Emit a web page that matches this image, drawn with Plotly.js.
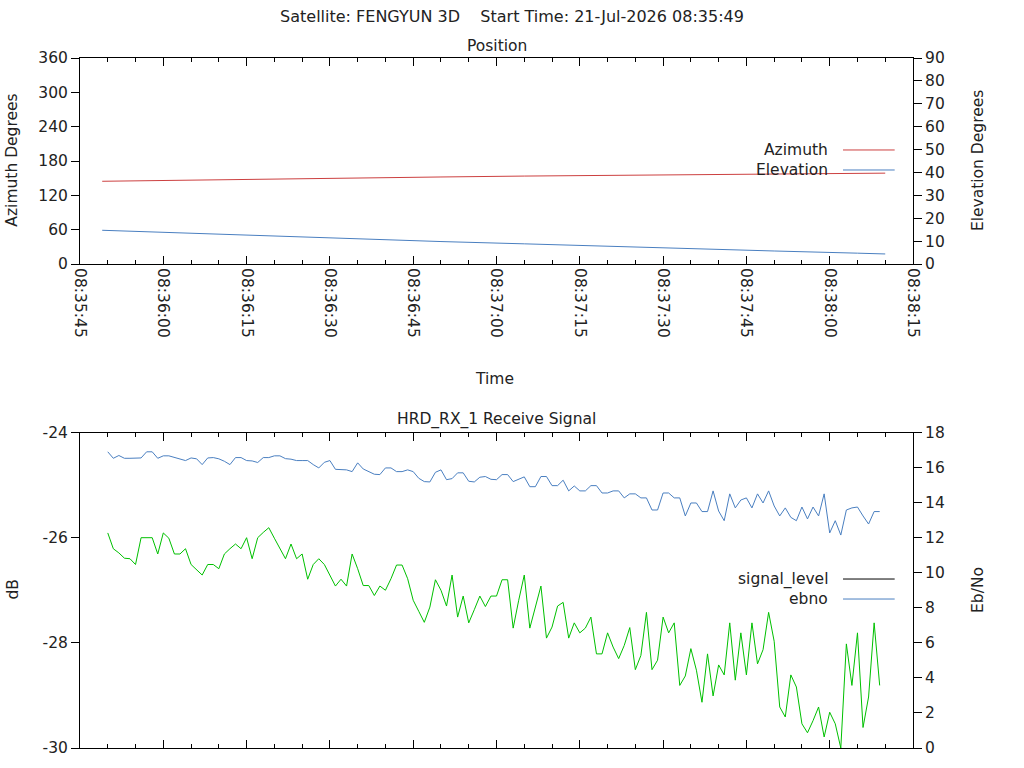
<!DOCTYPE html>
<html>
<head>
<meta charset="utf-8">
<script src="https://cdn.plot.ly/plotly-3.0.1.min.js"></script>
<style>
  html, body { margin: 0; padding: 0; background: #fff; }
  #chart { width: 1024px; height: 768px; }
</style>
</head>
<body>
<div id="chart"></div>
<script>
const DAY        = '2026-07-21';
const SAT_NAME   = 'FENGYUN 3D';
const START_TIME = '21-Jul-2026 08:35:49';
const X_RANGE    = ['08:35:45', '08:38:15'];

// ---- Position panel --------------------------------------------------------
const POS_TIME  = ['08:35:49', '08:36:05', '08:36:20', '08:36:35', '08:36:50', '08:37:05',
                   '08:37:20', '08:37:35', '08:37:50', '08:38:05', '08:38:10'];
const AZIMUTH   = [144.6, 146.9, 148.9, 150.5, 152.1, 153.7, 155.0, 156.5, 157.8, 158.5, 158.8];
const ELEVATION = [14.75, 13.4, 12.1, 10.95, 9.82, 8.82, 7.7, 6.7, 5.7, 4.75, 4.4];

// ---- Receive signal panel (one sample per second) ---------------------------
const SIG_TIME = [
  '08:35:50','08:35:51','08:35:52','08:35:53','08:35:54','08:35:55','08:35:56','08:35:57','08:35:58','08:35:59',
  '08:36:00','08:36:01','08:36:02','08:36:03','08:36:04','08:36:05','08:36:06','08:36:07','08:36:08','08:36:09',
  '08:36:10','08:36:11','08:36:12','08:36:13','08:36:14','08:36:15','08:36:16','08:36:17','08:36:18','08:36:19',
  '08:36:20','08:36:21','08:36:22','08:36:23','08:36:24','08:36:25','08:36:26','08:36:27','08:36:28','08:36:29',
  '08:36:30','08:36:31','08:36:32','08:36:33','08:36:34','08:36:35','08:36:36','08:36:37','08:36:38','08:36:39',
  '08:36:40','08:36:41','08:36:42','08:36:43','08:36:44','08:36:45','08:36:46','08:36:47','08:36:48','08:36:49',
  '08:36:50','08:36:51','08:36:52','08:36:53','08:36:54','08:36:55','08:36:56','08:36:57','08:36:58','08:36:59',
  '08:37:00','08:37:01','08:37:02','08:37:03','08:37:04','08:37:05','08:37:06','08:37:07','08:37:08','08:37:09',
  '08:37:10','08:37:11','08:37:12','08:37:13','08:37:14','08:37:15','08:37:16','08:37:17','08:37:18','08:37:19',
  '08:37:20','08:37:21','08:37:22','08:37:23','08:37:24','08:37:25','08:37:26','08:37:27','08:37:28','08:37:29',
  '08:37:30','08:37:31','08:37:32','08:37:33','08:37:34','08:37:35','08:37:36','08:37:37','08:37:38','08:37:39',
  '08:37:40','08:37:41','08:37:42','08:37:43','08:37:44','08:37:45','08:37:46','08:37:47','08:37:48','08:37:49',
  '08:37:50','08:37:51','08:37:52','08:37:53','08:37:54','08:37:55','08:37:56','08:37:57','08:37:58','08:37:59',
  '08:38:00','08:38:01','08:38:02','08:38:03','08:38:04','08:38:05','08:38:06','08:38:07','08:38:08','08:38:09',
];

const SIGNAL_LEVEL = [
  -25.91,-26.21,-26.29,-26.39,-26.40,-26.51,-26.00,-26.00,-26.00,-26.31,
  -25.91,-26.01,-26.31,-26.31,-26.21,-26.51,-26.61,-26.71,-26.51,-26.51,
  -26.59,-26.31,-26.21,-26.12,-26.21,-26.00,-26.40,-26.00,-25.90,-25.81,
  -26.01,-26.21,-26.40,-26.12,-26.40,-26.31,-26.79,-26.51,-26.40,-26.51,
  -26.71,-26.92,-26.79,-26.92,-26.31,-26.59,-26.91,-26.91,-27.10,-26.92,
  -27.00,-26.78,-26.52,-26.52,-26.78,-27.19,-27.40,-27.61,-27.32,-26.80,
  -27.00,-27.30,-26.71,-27.51,-27.11,-27.62,-27.37,-27.11,-27.31,-27.11,
  -27.11,-26.80,-26.80,-27.72,-27.19,-26.71,-27.72,-27.30,-26.92,-27.91,
  -27.70,-27.30,-27.23,-27.91,-27.62,-27.81,-27.72,-27.51,-28.21,-28.21,
  -27.81,-28.08,-28.30,-28.05,-27.71,-28.51,-28.24,-27.42,-28.51,-28.33,
  -27.51,-27.81,-27.62,-28.81,-28.63,-28.11,-28.52,-29.13,-28.21,-29.01,
  -28.42,-28.61,-27.62,-28.71,-27.81,-28.61,-27.62,-28.40,-28.13,-27.42,
  -27.97,-29.22,-29.41,-28.61,-28.84,-29.54,-29.71,-29.48,-29.22,-29.79,
  -29.32,-29.54,-30.00,-28.02,-28.81,-27.81,-29.61,-29.03,-27.62,-28.81,
];

const EBNO = [
  16.90,16.53,16.69,16.53,16.53,16.53,16.55,16.90,16.90,16.53,
  16.67,16.67,16.59,16.51,16.40,16.55,16.50,16.17,16.55,16.57,
  16.50,16.36,16.17,16.57,16.57,16.40,16.38,16.29,16.57,16.57,
  16.67,16.67,16.51,16.48,16.40,16.40,16.40,16.17,15.98,16.30,
  16.40,15.90,15.87,15.87,15.77,16.27,15.92,15.77,15.62,15.60,
  15.98,15.98,15.77,15.77,15.87,15.77,15.39,15.20,15.18,15.73,
  15.87,15.31,15.37,15.70,15.70,15.22,15.18,15.45,15.49,15.33,
  15.31,15.60,15.60,15.20,15.33,15.47,14.91,14.91,15.49,15.49,
  14.97,14.97,15.28,14.67,14.95,14.67,14.67,14.97,14.97,14.55,
  14.55,14.67,14.67,14.27,14.50,14.50,14.27,14.27,13.58,13.58,
  14.55,14.55,14.27,14.27,13.24,13.98,13.98,13.49,13.49,14.67,
  13.52,12.97,14.50,13.70,14.15,14.27,13.70,14.50,13.98,14.67,
  13.81,13.24,13.70,13.16,12.97,13.75,13.07,13.75,13.24,14.50,
  12.27,12.97,12.15,13.58,13.70,13.75,13.24,12.78,13.49,13.49,
];

// dB ticks written with a plain hyphen, as gnuplot does
const DB_TICKS = [-30, -28, -26, -24];

const RED   = '#cc4040';
const BLUE  = '#4a7fc0';
const GREEN = '#00c000';

// ---- helpers -----------------------------------------------------------------
const stamp = t => `${DAY} ${t}`;
const FONT  = { family: 'DejaVu Sans, sans-serif', size: 15.5, color: '#222' };

// legend drawn gnuplot-style: label on the left, line sample on the right
const KEYS = [
  { name: 'Azimuth',      color: RED,    y: 0.8667 },
  { name: 'Elevation',    color: BLUE,   y: 0.8377 },
  { name: 'signal_level', color: '#000', y: 0.2449 },
  { name: 'ebno',         color: BLUE,   y: 0.2159 },
];

function timeAxis(anchor, labels) {
  return {
    type: 'date', anchor, domain: [0, 1],
    range: X_RANGE.map(stamp),
    tick0: stamp(X_RANGE[0]), dtick: 15000,
    tickformat: '%H:%M:%S', tickangle: 90,
    showticklabels: labels,
    ticks: 'inside', ticklen: 8, tickcolor: '#000', tickwidth: 1,
    minor: { dtick: 5000, ticks: 'inside', ticklen: 4, tickcolor: '#000', showgrid: false },
    showline: true, linecolor: '#000', linewidth: 1, mirror: 'ticks',
    showgrid: false, zeroline: false, tickfont: FONT,
  };
}

function valueAxis(extra) {
  return Object.assign({
    ticks: 'outside', ticklen: 8, tickcolor: '#000', tickwidth: 1,
    showline: true, linecolor: '#000', linewidth: 1,
    showgrid: false, zeroline: false, tickfont: FONT,
  }, extra);
}

// ---- traces ------------------------------------------------------------------
const traces = [
  { type: 'scatter', mode: 'lines', name: 'Azimuth',
    x: POS_TIME.map(stamp), y: AZIMUTH, xaxis: 'x', yaxis: 'y',
    line: { color: RED, width: 1 }, showlegend: false },
  { type: 'scatter', mode: 'lines', name: 'Elevation',
    x: POS_TIME.map(stamp), y: ELEVATION, xaxis: 'x', yaxis: 'y2',
    line: { color: BLUE, width: 1 }, showlegend: false },
  { type: 'scatter', mode: 'lines', name: 'signal_level',
    x: SIG_TIME.map(stamp), y: SIGNAL_LEVEL, xaxis: 'x2', yaxis: 'y3',
    line: { color: GREEN, width: 1 }, showlegend: false },
  { type: 'scatter', mode: 'lines', name: 'ebno',
    x: SIG_TIME.map(stamp), y: EBNO, xaxis: 'x2', yaxis: 'y4',
    line: { color: BLUE, width: 1 }, showlegend: false },
];

// ---- annotations (panel titles, axis titles, key labels) ---------------------
const ann = (text, x, y, opts) => Object.assign({
  text, x, y, xref: 'paper', yref: 'paper', showarrow: false,
  xanchor: 'center', yanchor: 'middle', font: FONT,
}, opts || {});

const annotations = [
  ann('Position', 0.5, 1.0174),
  ann('HRD_RX_1 Receive Signal', 0.5, 0.4754),
  ann('Time', 0.498, 0.5348),
  ann('Azimuth Degrees', -0.081, 0.852, { textangle: -90 }),
  ann('Elevation Degrees', 1.078, 0.852, { textangle: -90 }),
  ann('dB', -0.081, 0.229, { textangle: -90 }),
  ann('Eb/No', 1.078, 0.229, { textangle: -90 }),
];
KEYS.forEach(k => annotations.push(ann(k.name, 0.9004, k.y, { xanchor: 'right' })));

const shapes = KEYS.map(k => ({
  type: 'line', xref: 'paper', yref: 'paper',
  x0: 0.916, x1: 0.978, y0: k.y, y1: k.y,
  line: { color: k.color, width: 1 },
}));

const layout = {
  width: 1024, height: 768,
  paper_bgcolor: '#fff', plot_bgcolor: '#fff',
  font: FONT,
  margin: { l: 80, r: 111, t: 58, b: 20 },
  title: { text: `Satellite: ${SAT_NAME}\u00a0\u00a0\u00a0\u00a0Start Time: ${START_TIME}`,
           x: 0.5, xref: 'container', xanchor: 'center',
           y: 0.978, yref: 'container', yanchor: 'middle',
           font: Object.assign({}, FONT, { size: 16 }) },
  showlegend: false,
  xaxis:  timeAxis('y', true),
  xaxis2: timeAxis('y3', false),
  yaxis:  valueAxis({ domain: [0.7014, 1], anchor: 'x', range: [0, 360], dtick: 60 }),
  yaxis2: valueAxis({ overlaying: 'y', side: 'right', anchor: 'x', range: [0, 90], dtick: 10 }),
  yaxis3: valueAxis({ domain: [0, 0.4572], anchor: 'x2', range: [-30, -24],
                      tickmode: 'array', tickvals: DB_TICKS, ticktext: DB_TICKS.map(String) }),
  yaxis4: valueAxis({ overlaying: 'y3', side: 'right', anchor: 'x2', range: [0, 18], dtick: 2 }),
  annotations, shapes,
};

Plotly.newPlot('chart', traces, layout, { displayModeBar: false, staticPlot: true });
</script>
</body>
</html>
